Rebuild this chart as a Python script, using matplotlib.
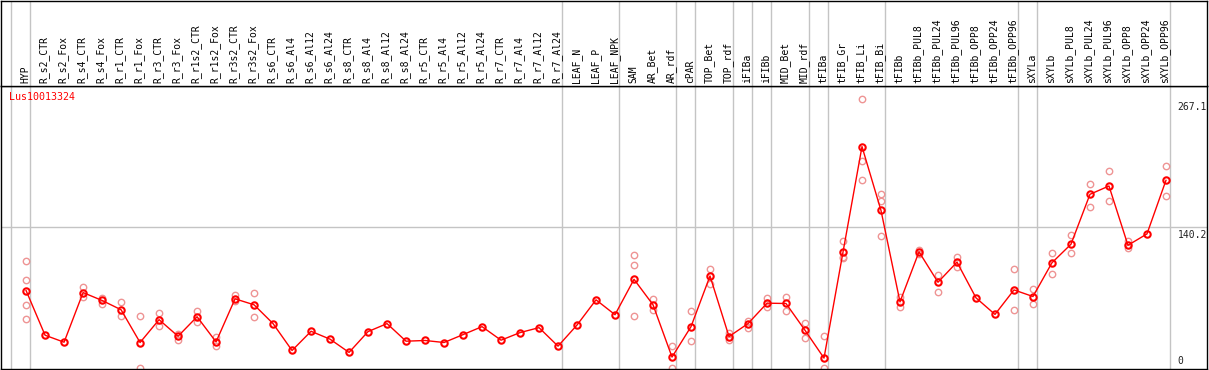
import matplotlib
matplotlib.use("Agg")
import matplotlib.pyplot as plt

# sample names, one column each
samples = ["HYP",
           "R_s2_CTR", "R_s2_Fox", "R_s4_CTR", "R_s4_Fox", "R_r1_CTR", "R_r1_Fox",
           "R_r3_CTR", "R_r3_Fox", "R_r1s2_CTR", "R_r1s2_Fox", "R_r3s2_CTR", "R_r3s2_Fox",
           "R_s6_CTR", "R_s6_Al4", "R_s6_Al12", "R_s6_Al24",
           "R_s8_CTR", "R_s8_Al4", "R_s8_Al12", "R_s8_Al24",
           "R_r5_CTR", "R_r5_Al4", "R_r5_Al12", "R_r5_Al24",
           "R_r7_CTR", "R_r7_Al4", "R_r7_Al12", "R_r7_Al24",
           "LEAF_N", "LEAF_P", "LEAF_NPK",
           "SAM", "AR_Bet", "AR_rdf",
           "cPAR", "TOP_Bet", "TOP_rdf", "iFIBa", "iFIBb", "MID_Bet", "MID_rdf",
           "tFIBa", "tFIB_Gr", "tFIB_Li", "tFIB_Bi",
           "tFIBb", "tFIBb_PUL8", "tFIBb_PUL24", "tFIBb_PUL96",
           "tFIBb_OPP8", "tFIBb_OPP24", "tFIBb_OPP96",
           "sXYLa",
           "sXYLb", "sXYLb_PUL8", "sXYLb_PUL24", "sXYLb_PUL96",
           "sXYLb_OPP8", "sXYLb_OPP24", "sXYLb_OPP96"]

# number of samples in each group (gray separator after each group)
group_sizes = [1, 28, 3, 3, 1, 2, 1, 1, 2, 1, 3, 7, 1, 7]

means = [77.6, 33.4, 26.5, 75.6, 67.8, 58.6, 26.2, 48.8, 32.4, 51.7, 26.8, 69.4, 63.5,
         44.9, 18.3, 37.3, 29.5, 16.4, 37.0, 44.9, 27.5, 28.2, 26.2, 34.0, 41.9,
         28.5, 36.0, 40.9, 22.6, 43.5, 68.4, 53.7, 88.7, 63.5, 11.8, 41.9, 92.0,
         32.1, 44.9, 65.1, 64.8, 38.3, 10.8, 115.6, 220.0, 156.8, 66.4, 115.9, 85.8,
         105.7, 70.4, 54.0, 78.2, 71.7, 105.1, 123.4, 172.8, 181.0, 122.4, 133.6, 186.6]

replicates = [[106.7, 88.4, 63.5, 49.8], [], [], [80.8, 71.0], [70.4, 64.2],
              [65.8, 52.4], [52.7, 0.7], [55.0, 42.2], [34.7, 28.8], [57.3, 46.5],
              [31.4, 22.9], [73.0, 66.8], [75.6, 51.4], [], [], [], [], [], [], [],
              [], [], [], [], [], [], [], [], [], [], [], [],
              [112.9, 103.1, 52.7], [69.4, 58.3], [23.2, 0.7], [57.6, 27.5],
              [99.2, 84.1], [36.0, 28.5], [47.1, 40.9], [70.0, 61.6], [71.4, 57.6],
              [45.2, 31.1], [32.4, 0.7], [126.7, 109.7, 110.5], [266.8, 205.9, 186.6],
              [173.5, 165.7, 131.6], [71.4, 61.2], [117.8, 114.0], [93.3, 76.6],
              [111.0, 100.8], [], [], [98.8, 57.9], [79.2, 64.5], [114.6, 94.3],
              [132.2, 114.6], [183.3, 160.7], [195.4, 166.6], [126.7, 119.5], [],
              [201.0, 171.5]]

gene = "Lus10013324"
y_top = 280.4
y_labels = [267.1, 140.2]

W, H = 1209, 370
fig = plt.figure(figsize=(W / 100, H / 100), dpi=100)
head_px = 85.5
ax = fig.add_axes([1 / W, 1 / H, 1206 / W, (H - head_px - 1) / H])
axh = fig.add_axes([1 / W, (H - head_px) / H, 1206 / W, (head_px - 0.5) / H], sharex=ax)

x = list(range(len(samples)))
gray = "#c4c4c4"

# separators
ends = [-1]
for s in group_sizes:
    ends.append(ends[-1] + s)
for e in ends:
    ax.axvline(e + 0.23, color=gray, lw=1, zorder=0)
    axh.axvline(e + 0.23, color=gray, lw=1, zorder=0)
ax.axhline(y_labels[1], color=gray, lw=1, zorder=0)

# replicates
for i, reps in enumerate(replicates):
    if reps:
        ax.plot([i] * len(reps), reps, ls="none", marker="o", ms=4.6, mfc="none",
                mec="#ee9494", mew=1.0, zorder=2)

ax.plot(x, means, color="red", lw=1, marker="o", ms=4.6, mfc="none", mec="red",
        mew=1.5, zorder=3)

ax.set_xlim(-1.32, 62.16)
ax.set_ylim(0, y_top)
for a in (ax, axh):
    a.set_xticks([])
    a.set_yticks([])
    for sp in a.spines.values():
        sp.set_color("black")
        sp.set_linewidth(1)

for i, name in enumerate(samples):
    axh.text(i - 0.05, 0.035, name, rotation=90, ha="center", va="bottom",
             fontsize=7, family="DejaVu Sans Mono", transform=axh.get_xaxis_transform())

ax.text(0.0066, 1 - 11.5 / 283, gene, color="red", fontsize=7.2,
        family="DejaVu Sans Mono", va="center", ha="left", transform=ax.transAxes)

tr = ax.get_yaxis_transform()
for v in y_labels:
    ax.annotate(str(v), (0.9755, v), xycoords=tr, xytext=(0, -3), textcoords="offset pixels",
                fontsize=7, family="DejaVu Sans Mono", va="top", ha="left", color="#222222")
ax.annotate("0", (0.9755, 0), xycoords=tr, xytext=(0, 3), textcoords="offset pixels",
            fontsize=7, family="DejaVu Sans Mono", va="bottom", ha="left", color="#222222")

fig.savefig("out.png", dpi=100)
